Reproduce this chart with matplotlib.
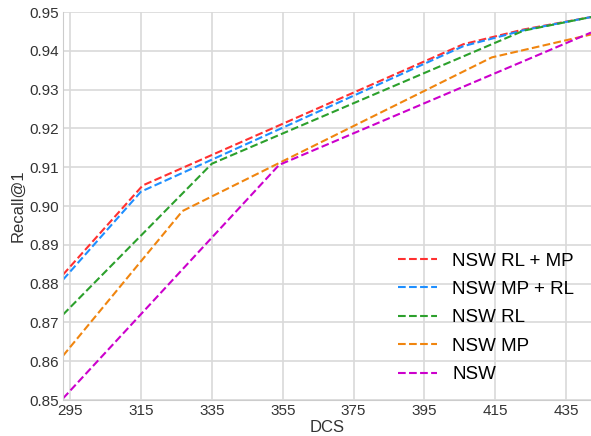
import matplotlib
matplotlib.use('Agg')
import matplotlib.pyplot as plt

plt.rcParams['font.family'] = ['Liberation Sans', 'DejaVu Sans']

# values
x_rl_mp = [293, 315.5, 406, 423, 442]
y_rl_mp = [0.8823, 0.9053, 0.9417, 0.9455, 0.9487]

x_mp_rl = [293, 315, 406, 423, 442]
y_mp_rl = [0.8810, 0.9037, 0.9412, 0.9453, 0.9487]

x_rl = [293, 335, 423, 442]
y_rl = [0.8720, 0.9109, 0.9452, 0.9487]

x_mp = [293, 326.7, 414, 442]
y_mp = [0.8614, 0.8987, 0.9383, 0.9442]

x_nsw = [293, 354, 442]
y_nsw = [0.8504, 0.9106, 0.9447]

xticks = [295, 315, 335, 355, 375, 395, 415, 435]
yticks = [0.85, 0.86, 0.87, 0.88, 0.89, 0.90, 0.91, 0.92, 0.93, 0.94, 0.95]

fig = plt.figure(figsize=(5.91, 4.36), dpi=100)
ax = fig.add_axes([63/591, 36/436, 528/591, 388/436])

ax.plot(x_rl_mp, y_rl_mp, '--', color='#ff3030', lw=1.5, label='NSW RL + MP')
ax.plot(x_mp_rl, y_mp_rl, '--', color='#1e8fff', lw=1.5, label='NSW MP + RL')
ax.plot(x_rl, y_rl, '--', color='#2ca02c', lw=1.5, label='NSW RL')
ax.plot(x_mp, y_mp, '--', color='#f0850f', lw=1.5, label='NSW MP')
ax.plot(x_nsw, y_nsw, '--', color='#cc00cc', lw=1.5, label='NSW')

ax.set_xlim(293, 442)
ax.set_ylim(0.85, 0.95)
ax.set_xticks(xticks)
ax.set_yticks(yticks)
ax.set_yticklabels(['%.2f' % v for v in yticks])
ax.tick_params(labelsize=11, length=0, colors='#333333', pad=3)
ax.grid(True, color='#d9d9d9', lw=1.2)
for side in ['top', 'right']:
    ax.spines[side].set_visible(False)
for side in ['left', 'bottom']:
    ax.spines[side].set_color('#cccccc')

ax.set_xlabel('DCS', fontsize=12, color='#333333', labelpad=1)
ax.set_ylabel('Recall@1', fontsize=12, color='#333333', labelpad=3)

ax.legend(loc='lower right', frameon=False, fontsize=13.5, handlelength=2.1,
          labelspacing=0.6, bbox_to_anchor=(1.0, 0.0))

fig.savefig('out.png', dpi=100)
